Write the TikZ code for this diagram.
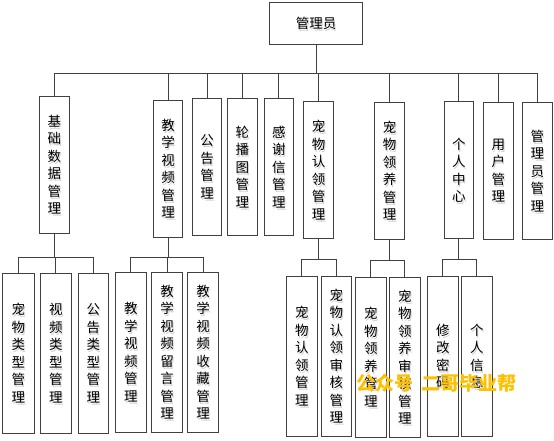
\documentclass[tikz,border=0pt]{standalone}
\usepackage{fontspec}
\newfontfamily\cjk{Noto Sans CJK SC}
\definecolor{linec}{HTML}{404040}
\definecolor{shadowc}{HTML}{CFCFCF}
\definecolor{wmc}{HTML}{FFC000}
\tikzset{
  box/.style={draw=linec, line width=1pt, inner sep=0pt, align=center,
    font=\cjk\fontsize{13.5}{17.5}\selectfont, text=black},
  shadowtext/.style={inner sep=0pt, align=center,
    font=\cjk\fontsize{13.5}{17.5}\selectfont, text=shadowc},
  conn/.style={draw=linec, line width=1pt},
  wmark/.style={inner sep=0pt, font=\cjk\bfseries\fontsize{19}{19}\selectfont, text=wmc}
}
\newcommand\bx[6]{%
  \node[shadowtext, xshift=1pt, yshift=-2pt] (#1-s) at (#2,#3) {#6};
  \node[box, minimum width=#4pt, minimum height=#5pt] (#1) at (#2,#3) {#6};
}
\begin{document}
\begin{tikzpicture}[x=1pt,y=-1pt]
\fill[white] (0,0) rectangle (554,441);
\useasboundingbox (0,0) rectangle (554,441);

% root
\bx{root}{316}{23.3}{93}{42}{管理员}

% level 1
\bx{jc}{54.3}{164.8}{30}{137}{基\\础\\数\\据\\管\\理}
\bx{jx}{168}{168.7}{29.4}{136.7}{教\\学\\视\\频\\管\\理}
\bx{gg}{207}{166.8}{29.4}{137}{公\\告\\管\\理}
\bx{lb}{242.3}{166.8}{30}{137}{轮\\播\\图\\管\\理}
\bx{gx}{278.8}{166.8}{29}{137}{感\\谢\\信\\管\\理}
\bx{rl}{318.5}{170}{30.4}{136.6}{宠\\物\\认\\领\\管\\理}
\bx{ly}{389.5}{170.8}{30.4}{137}{宠\\物\\领\\养\\管\\理}
\bx{gr}{458.8}{170}{29}{136.6}{个\\人\\中\\心}
\bx{yh}{498.3}{170.8}{30}{137}{用\\户\\管\\理}
\bx{gly}{537.3}{170.8}{30}{137}{管\\理\\员\\管\\理}

% level 2
\bx{a1}{18.3}{353.3}{32}{160}{宠\\物\\类\\型\\管\\理}
\bx{a2}{55.8}{353.3}{31}{160}{视\\频\\类\\型\\管\\理}
\bx{a3}{93.3}{353.3}{30}{160}{公\\告\\类\\型\\管\\理}
\bx{b1}{130.8}{352.3}{31}{160}{教\\学\\视\\频\\管\\理}
\bx{b2}{167}{352.3}{31.4}{160}{教\\学\\视\\频\\留\\言\\管\\理}
\bx{b3}{203}{352.3}{31.4}{160}{教\\学\\视\\频\\收\\藏\\管\\理}
\bx{c1}{301.8}{356.2}{31}{159.7}{宠\\物\\认\\领\\管\\理}
\bx{c2}{336.3}{356.2}{30}{159.7}{宠\\物\\认\\领\\审\\核\\管\\理}
\bx{d1}{370.8}{357.3}{31}{160}{宠\\物\\领\\养\\管\\理}
\bx{d2}{404.8}{357.3}{31}{160}{宠\\物\\领\\养\\审\\核\\管\\理}
\bx{e1}{442.8}{356.2}{31}{159.7}{修\\改\\密\\码}
\bx{e2}{476.8}{356.2}{31}{159.7}{个\\人\\信\\息}

% bus coordinates
\coordinate (bus0) at (316,73.3);
\coordinate (bjc) at (55,257.5);
\coordinate (bjx) at (168,257.5);
\coordinate (brl) at (317,259.7);
\coordinate (bly) at (389,260.7);
\coordinate (bgr) at (457,259.7);

% connectors
\foreach \c in {jc,jx,gg,lb,gx,rl,ly,gr,yh,gly}
  \draw[conn] (root.south) -- (root.south |- bus0) -| (\c.north);
\foreach \c in {a1,a2,a3}
  \draw[conn] (jc.south) -- (jc.south |- bjc) -| (\c.north);
\foreach \c in {b1,b2,b3}
  \draw[conn] (jx.south) -- (jx.south |- bjx) -| (\c.north);
\foreach \c in {c1,c2}
  \draw[conn] (rl.south) -- (rl.south |- brl) -| (\c.north);
\foreach \c in {d1,d2}
  \draw[conn] (ly.south) -- (ly.south |- bly) -| (\c.north);
\foreach \c in {e1,e2}
  \draw[conn] (gr.south) -- (gr.south |- bgr) -| (\c.north);

% watermark
\node[wmark] (wm) at (436.5,383) {公众号\hspace{8pt}二哥毕业帮};
\end{tikzpicture}
\end{document}
